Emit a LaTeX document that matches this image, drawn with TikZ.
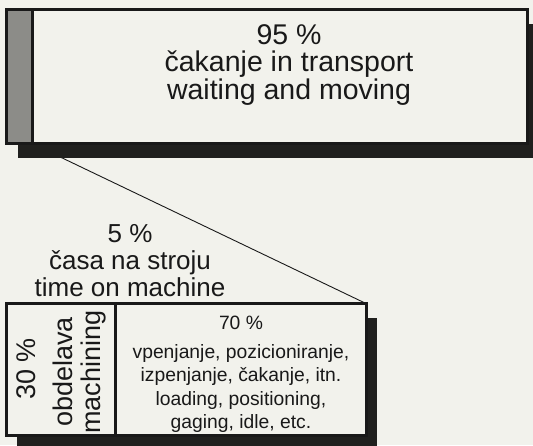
\documentclass[tikz,border=0pt]{standalone}
\usepackage{fontspec}
\setmainfont{Liberation Sans}
\usetikzlibrary{calc}
\definecolor{paper}{RGB}{242,242,236}
\definecolor{shadowcol}{RGB}{32,32,30}
\definecolor{barfill}{RGB}{140,140,136}
\definecolor{ink}{RGB}{25,25,25}
\pgfdeclarelayer{lines}
\pgfdeclarelayer{shadows}
\pgfsetlayers{lines,shadows,main}
\begin{document}
\begin{tikzpicture}[x=1pt,y=-1pt,
  cell/.style={draw=ink, line width=3pt, inner sep=0pt, outer sep=0pt, anchor=north west, fill=paper},
  txt/.style={inner sep=0pt, align=center, text=ink},
  connector/.style={draw=ink, line width=0.9pt},
  dropshadow/.style={fill=shadowcol}
]
\useasboundingbox (0,0) rectangle (533,445);
% boxes
\node[cell, fill=barfill, minimum width=25.5pt, minimum height=134pt] (bar) at (6.5,9.5) {};
\node[cell, minimum width=495.5pt, minimum height=134pt] (top) at (bar.north east) {};
\node[cell, minimum width=109pt, minimum height=132pt] (left) at (6.5,303.5) {};
\node[cell, minimum width=250.5pt, minimum height=132pt] (right) at (left.north east) {};
% texts (anchor=base is the baseline of the last line)
\node[txt, font=\fontsize{28.5}{26.5}\selectfont, anchor=base] (toptext) at (289,99)
  {95 \%\\čakanje in transport\\waiting and moving};
\node[txt, font=\fontsize{26}{27}\selectfont, anchor=base] (midtext) at (130,296)
  {5 \%\\časa na stroju\\time on machine};
\node[txt, font=\fontsize{19.3}{23.5}\selectfont, anchor=base] (righttext) at (241,428.5)
  {70 \%\\[5pt]vpenjanje, pozicioniranje,\\izpenjanje, čakanje, itn.\\loading, positioning,\\gaging, idle, etc.};
\node[txt, rotate=90, font=\fontsize{27}{30}\selectfont, anchor=base] (pct) at (35,369) {30 \%};
\node[txt, rotate=90, font=\fontsize{27}{30}\selectfont, anchor=base] (obd) at (72,372) {obdelava};
\node[txt, rotate=90, font=\fontsize{27}{30}\selectfont, anchor=base] (mach) at (100,372) {machining};
% shadows
\begin{pgfonlayer}{shadows}
  \fill[dropshadow] ($(bar.north west)+(11,14)$) rectangle ($(top.south east)+(11,14)$);
  \fill[dropshadow] ($(left.north west)+(10,14)$) rectangle ($(right.south east)+(11,14)$);
\end{pgfonlayer}
% background and connector
\begin{pgfonlayer}{lines}
  \fill[paper] (0,0) rectangle (533,445);
  \draw[connector] (bar.south east) -- (right.north east);
\end{pgfonlayer}
\end{tikzpicture}
\end{document}
